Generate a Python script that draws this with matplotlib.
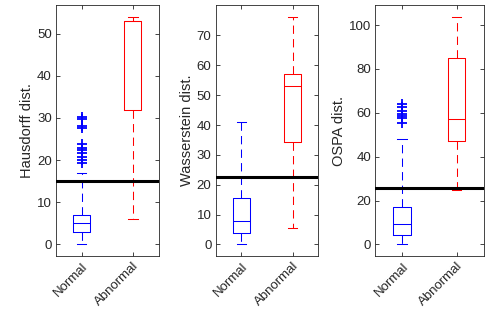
import matplotlib
matplotlib.use("Agg")
from matplotlib import pyplot as plt

plt.rcParams['font.family'] = ['Liberation Sans', 'DejaVu Sans']

#########################################################
### Data

groups = ['Normal', 'Abnormal']

# Hausdorff: (whislo, q1, med, q3, whishi)
haus_normal = [0, 3, 5, 7, 17]
haus_abnormal = [6, 32, 53, 53, 54]
haus_fliers = [30.3, 29.7, 28.0, 27.6, 23.7, 22.9, 22.4, 21.6, 20.8, 20.0, 19.3]
haus_thresh = 15

# Wasserstein
wass_normal = [0, 3.9, 8.0, 15.5, 40.9]
wass_abnormal = [5.4, 34.2, 53.0, 57.1, 76.1]
wass_fliers = []
wass_thresh = 22.6

# OSPA
ospa_normal = [0, 4.1, 9.1, 17.0, 48.0]
ospa_abnormal = [25, 47.1, 57.1, 85.1, 103.5]
ospa_fliers = [64.0, 62.7, 60.9, 59.4, 58.5, 57.5, 55.2]
ospa_thresh = 25.8

#########################################################
### Helpers

def make_stats(vals, fliers=()):
    lo, q1, med, q3, hi = vals
    return {'whislo': lo, 'q1': q1, 'med': med, 'q3': q3, 'whishi': hi,
            'fliers': list(fliers), 'label': ''}

def draw_panel(ax, normal, abnormal, fliers, thresh, ylabel, ylim, yticks):
    cols = ['#0000ff', '#ff0000']
    stats = [make_stats(normal, fliers), make_stats(abnormal)]
    for i, (st, c) in enumerate(zip(stats, cols)):
        lp = dict(color=c, linewidth=0.75)
        ax.bxp([st], positions=[i + 1], widths=0.33, showfliers=True,
               capwidths=0.18,
               boxprops=lp, medianprops=lp, capprops=lp,
               whiskerprops=dict(color=c, linewidth=0.75,
                                 linestyle=(0, (8, 5))),
               flierprops=dict(marker='+', markeredgecolor=c,
                               markersize=6.5, markeredgewidth=1.3,
                               linestyle='none'))
    ax.axhline(thresh, color='black', lw=2.2, zorder=5)
    ax.set_xlim(0.5, 2.5)
    ax.set_ylim(*ylim)
    ax.set_yticks(yticks)
    ax.set_xticks([1, 2])
    ax.set_xticklabels(groups, rotation=45, ha='right', rotation_mode='anchor')
    ax.set_ylabel(ylabel, fontsize=10.5, color='#262626', labelpad=2)
    ax.tick_params(direction='in', top=True, right=True, length=3,
                   width=0.6, colors='#262626', labelsize=9.5, pad=3)
    for sp in ax.spines.values():
        sp.set_color('#262626')
        sp.set_linewidth(0.6)

#########################################################
### Figure

fig = plt.figure(figsize=(4.91, 3.15), dpi=100)
ax1 = fig.add_axes([0.114, 0.187, 0.209, 0.797])
ax2 = fig.add_axes([0.439, 0.187, 0.209, 0.797])
ax3 = fig.add_axes([0.764, 0.187, 0.221, 0.797])

draw_panel(ax1, haus_normal, haus_abnormal, haus_fliers, haus_thresh,
           'Hausdorff dist.', (-2.8, 56.8), range(0, 51, 10))
draw_panel(ax2, wass_normal, wass_abnormal, wass_fliers, wass_thresh,
           'Wasserstein dist.', (-3.9, 80.2), range(0, 71, 10))
draw_panel(ax3, ospa_normal, ospa_abnormal, ospa_fliers, ospa_thresh,
           'OSPA dist.', (-5.3, 109.1), range(0, 101, 20))

fig.savefig('out.png', dpi=100)
